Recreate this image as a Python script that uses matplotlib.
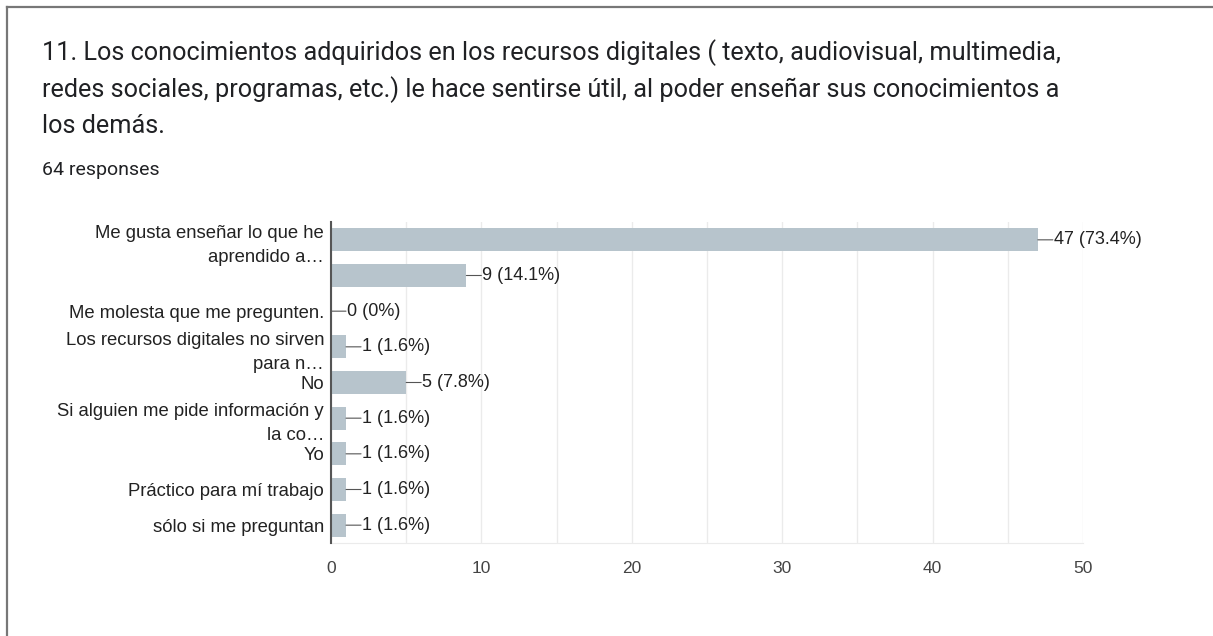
import matplotlib.pyplot as plt
from matplotlib.lines import Line2D
import numpy as np

# datos de la pregunta 11
title_lines = [
    "11. Los conocimientos adquiridos en los recursos digitales ( texto, audiovisual, multimedia,",
    "redes sociales, programas, etc.) le hace sentirse útil, al poder enseñar sus conocimientos a",
    "los demás.",
]
n_responses = 64
categories = [
    "Me gusta enseñar lo que he\naprendido a…",
    "",
    "Me molesta que me pregunten.",
    "Los recursos digitales no sirven\npara n…",
    "No",
    "Si alguien me pide información y\nla co…",
    "Yo",
    "Práctico para mí trabajo",
    "sólo si me preguntan",
]
counts = [47, 9, 0, 1, 5, 1, 1, 1, 1]
x_ticks = [0, 10, 20, 30, 40, 50]

W, H = 1213, 636
fig = plt.figure(figsize=(W / 100, H / 100), dpi=100)
fig.patch.set_facecolor('white')

# marco de la tarjeta
fig.add_artist(Line2D([7 / W, 1], [1 - 7 / H, 1 - 7 / H], color='#777777', lw=1.6))
fig.add_artist(Line2D([7 / W, 7 / W], [0, 1 - 7 / H], color='#777777', lw=1.6))

# titulo, una linea cada vez
for i, line in enumerate(title_lines):
    fig.text(42 / W, 1 - (53 + 36.5 * i) / H, line, fontsize=18.2, family='Roboto',
             color='#202124', va='center', ha='left')
fig.text(42 / W, 1 - 170 / H, f"{n_responses} responses", fontsize=14, family='Roboto',
         color='#202124', va='center', ha='left')

ax = fig.add_axes([331 / W, 1 - 543 / H, (1083 - 331) / W, (543 - 222) / H])
y = np.arange(len(categories))
ax.barh(y, counts, height=0.64, color='#b7c4cc', zorder=2)
ax.set_ylim(len(categories) - 0.5, -0.5)
ax.set_xlim(0, 50)

ax.set_yticks(y)
ax.set_yticklabels(categories, fontsize=13.3, family='Liberation Sans', color='#222222',
                   linespacing=1.55)
ax.set_xticks(x_ticks)
ax.set_xticklabels([str(t) for t in x_ticks], fontsize=12.5, family='Liberation Sans',
                   color='#444444')
ax.set_xticks(np.arange(0, 51, 5), minor=True)
ax.tick_params(axis='both', which='both', length=0)
ax.tick_params(axis='y', pad=5)
ax.tick_params(axis='x', pad=13)

# rejilla cada 5
ax.grid(axis='x', which='both', color='#ebebeb', lw=1, zorder=0)
for s in ['top', 'right']:
    ax.spines[s].set_visible(False)
ax.spines['bottom'].set_color('#ebebeb')
ax.spines['left'].set_color('#555555')
ax.spines['left'].set_linewidth(1.5)
ax.spines['left'].set_zorder(3)

# etiquetas de valor con linea guia
for yi, c in zip(y, counts):
    pct = c / n_responses * 100
    lab = f"{c} (0%)" if c == 0 else f"{c} ({pct:.1f}%)"
    ax.annotate('', xy=(c, yi), xytext=(15, 0), textcoords='offset pixels',
                arrowprops=dict(arrowstyle='-', color='#555555', lw=0.8,
                                shrinkA=0, shrinkB=0))
    ax.annotate(lab, xy=(c, yi), xytext=(16, 0), textcoords='offset pixels',
                ha='left', va='center', fontsize=13, family='Liberation Sans',
                color='#222222')

fig.savefig('out.png', dpi=100)
